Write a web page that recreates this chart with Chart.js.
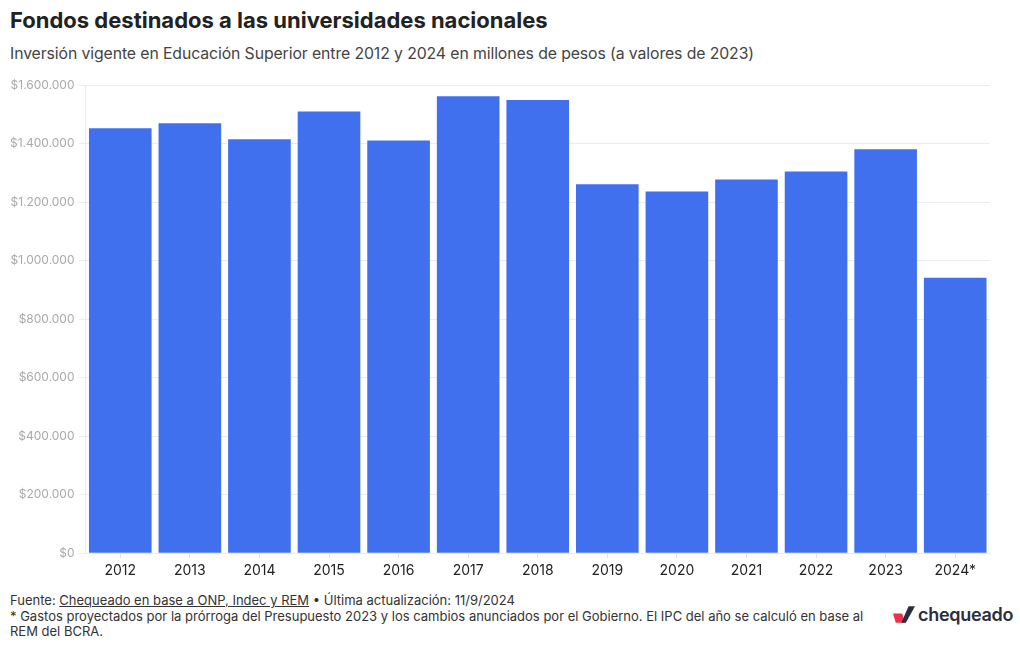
<!DOCTYPE html>
<html>
<head>
<meta charset="utf-8">
<script src="https://cdn.jsdelivr.net/npm/chart.js@4.4.1/dist/chart.umd.min.js"></script>
<style>
    body { margin: 0; background: #fff; font-family: "Inter", "Liberation Sans", sans-serif; }
    #page { position: relative; width: 1020px; height: 650px; overflow: hidden; }
    .title { position: absolute; left: 10px; top: 7px; font-size: 22px; font-weight: 700; color: #222; letter-spacing: 0px; }
    .subtitle { position: absolute; left: 10px; top: 44px; font-size: 15.8px; color: #444; letter-spacing: -0.1px; }
    #chartBox { position: absolute; left: 0; top: 74px; width: 990px; height: 509px; }
    .footer { position: absolute; left: 10px; top: 593px; font-size: 13px; line-height: 15.5px; color: #333; width: 860px; }
    .footer u { text-decoration: underline; }
    .logo { position: absolute; left: 893px; top: 604px; display: flex; align-items: center; }
    .logo span { font-size: 18px; font-weight: 600; color: #2a2d3e; margin-left: 3px; letter-spacing: -0.3px; }
</style>
</head>
<body>
<div id="page">
    <div class="title">Fondos destinados a las universidades nacionales</div>
    <div class="subtitle">Inversión vigente en Educación Superior entre 2012 y 2024 en millones de pesos (a valores de 2023)</div>
    <div id="chartBox"><canvas id="fondosChart"></canvas></div>
    <div class="footer">Fuente: <u>Chequeado en base a ONP, Indec y REM</u> • Última actualización: 11/9/2024<br>* Gastos proyectados por la prórroga del Presupuesto 2023 y los cambios anunciados por el Gobierno. El IPC del año se calculó en base al REM del BCRA.</div>
    <div class="logo">
        <svg width="22" height="17" viewBox="0 0 24 18">
            <polygon points="0,8 10,8 13,18 3,18" fill="#e8334a"/>
            <polygon points="9,18 17,0 24,0 14,18" fill="#2a2d3e"/>
        </svg>
        <span>chequeado</span>
    </div>
</div>
<script>
const years = ['2012', '2013', '2014', '2015', '2016', '2017', '2018', '2019', '2020', '2021', '2022', '2023', '2024*'];
const fondos = [1453000, 1470000, 1415000, 1510000, 1411000, 1562000, 1549000, 1261000, 1237000, 1278000, 1305000, 1381000, 942000];
const yTicks = [0, 200000, 400000, 600000, 800000, 1000000, 1200000, 1400000, 1600000];

function formatPesos(v) {
    return '$' + String(v).replace(/\B(?=(\d{3})+(?!\d))/g, '.');
}

document.addEventListener('DOMContentLoaded', () => {
    const ctx = document.getElementById('fondosChart').getContext('2d');
    new Chart(ctx, {
        type: 'bar',
        data: {
            labels: years,
            datasets: [{
                label: 'Fondos',
                data: fondos,
                backgroundColor: '#4070ee',
                barPercentage: 0.9,
                categoryPercentage: 1.0
            }]
        },
        options: {
            responsive: true,
            maintainAspectRatio: false,
            animation: false,
            layout: { padding: { top: 9, right: 0, left: 6 } },
            plugins: {
                legend: { display: false },
                tooltip: { enabled: false }
            },
            scales: {
                y: {
                    min: 0,
                    max: 1600000,
                    afterBuildTicks: axis => { axis.ticks = yTicks.map(v => ({ value: v })); },
                    grid: { color: '#ececec', tickLength: 7 },
                    border: { display: true, color: '#ececec' },
                    ticks: {
                        color: '#aaaaaa',
                        font: { family: 'Inter', size: 12 },
                        padding: 4,
                        callback: v => formatPesos(v)
                    }
                },
                x: {
                    grid: { drawOnChartArea: false, offset: false, color: '#e4e4e4', tickLength: 5 },
                    border: { display: false },
                    ticks: {
                        color: '#222',
                        font: { family: 'Inter', size: 14 },
                        padding: 4
                    }
                }
            }
        }
    });
});
</script>
</body>
</html>
